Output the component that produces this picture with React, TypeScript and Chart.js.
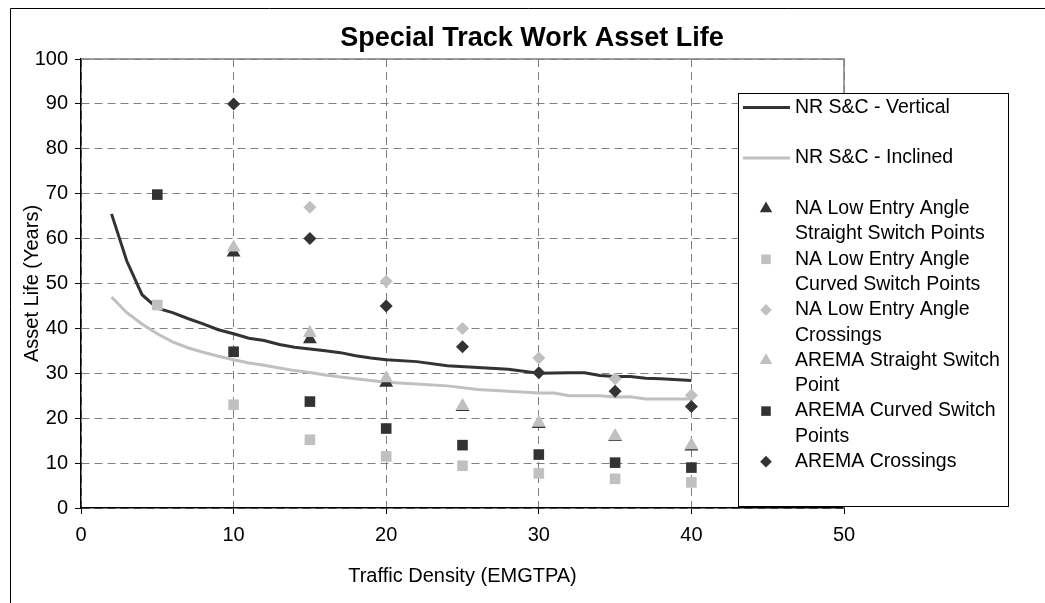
import React, { useEffect, useRef } from "react";
import { Chart, registerables } from "chart.js";
import { drawPoint } from "chart.js/helpers";

Chart.register(...registerables);

// ---------- text ----------
const CHART_TITLE = "Special Track Work Asset Life";
const X_TITLE = "Traffic Density (EMGTPA)";
const Y_TITLE = "Asset Life (Years)";

// legend text (as wrapped in the reference legend)
const legendLines: string[][] = [
  ["NR S&C - Vertical"],
  ["NR S&C - Inclined"],
  ["NA Low Entry Angle", "Straight Switch Points"],
  ["NA Low Entry Angle", "Curved Switch Points"],
  ["NA Low Entry Angle", "Crossings"],
  ["AREMA Straight Switch", "Point"],
  ["AREMA Curved Switch", "Points"],
  ["AREMA Crossings"],
];

// ---------- axis ----------
const X_MIN = 0;
const X_MAX = 50;
const X_STEP = 10;
const Y_MIN = 0;
const Y_MAX = 100;
const Y_STEP = 10;

// ---------- data ----------
// NR S&C - Vertical (curve)
const verticalX = [2, 3, 4, 5, 6, 7, 8, 9, 10, 11, 12, 13, 14, 15, 16, 17, 18, 19, 20, 22, 24, 26, 28, 30, 32, 33, 34, 35, 36, 37, 38, 40];
const verticalY = [65.5, 55, 47.5, 44.5, 43.5, 42.2, 41, 39.7, 38.8, 37.8, 37.3, 36.4, 35.8, 35.4, 35.0, 34.6, 33.9, 33.4, 33.0, 32.6, 31.7, 31.3, 30.9, 30.0, 30.1, 30.1, 29.5, 29.3, 29.3, 28.9, 28.8, 28.4];

// NR S&C - Inclined (curve)
const inclinedX = [2, 3, 4, 5, 6, 7, 8, 9, 10, 11, 12, 13, 14, 15, 16, 17, 18, 19, 20, 22, 24, 26, 28, 30, 31, 32, 34, 35, 36, 37, 38, 40];
const inclinedY = [47, 43.5, 41, 38.8, 37, 35.7, 34.7, 33.8, 33.0, 32.3, 31.8, 31.2, 30.6, 30.2, 29.6, 29.2, 28.8, 28.4, 28.0, 27.6, 27.2, 26.4, 26.0, 25.6, 25.6, 25.0, 25.0, 24.7, 24.8, 24.3, 24.3, 24.3];

// NA Low Entry Angle Straight Switch Points
const naStraightX = [10, 15, 20, 25, 30, 35, 40];
const naStraightY = [56.9, 37.6, 27.9, 22.5, 18.7, 15.8, 13.7];

// NA Low Entry Angle Curved Switch Points
const naCurvedX = [5, 10, 15, 20, 25, 30, 35, 40];
const naCurvedY = [45.2, 23.0, 15.2, 11.5, 9.4, 7.7, 6.5, 5.7];

// NA Low Entry Angle Crossings
const naCrossX = [15, 20, 25, 30, 35, 40];
const naCrossY = [67.0, 50.5, 40.0, 33.4, 28.8, 25.1];

// AREMA Straight Switch Point
const aremaStraightX = [10, 15, 20, 25, 30, 35, 40];
const aremaStraightY = [58.0, 39.0, 28.9, 22.7, 19.0, 16.0, 14.0];

// AREMA Curved Switch Points
const aremaCurvedX = [5, 10, 15, 20, 25, 30, 35, 40];
const aremaCurvedY = [69.8, 34.8, 23.7, 17.7, 14.0, 11.9, 10.1, 9.0];

// AREMA Crossings
const aremaCrossX = [10, 15, 20, 25, 30, 35, 40];
const aremaCrossY = [90, 60, 45, 35.9, 30.1, 26.0, 22.6];

// ---------- style ----------
const DARK = "#333333";
const LIGHT = "#c0c0c0";
const GRID = "#808080";
const FONT = "'Liberation Sans', Arial, Helvetica, sans-serif";

const pts = (xs: number[], ys: number[]) => xs.map((x, i) => ({ x, y: ys[i] }));

const lineSet = (i: number, xs: number[], ys: number[], color: string) => ({
  label: legendLines[i].join(" "),
  data: pts(xs, ys),
  showLine: true,
  borderColor: color,
  backgroundColor: color,
  borderWidth: 3,
  pointRadius: 0,
  pointHoverRadius: 0,
  tension: 0,
  order: 20,
});

const markerSet = (i: number, xs: number[], ys: number[], color: string, style: string, radius: number, order: number) => ({
  label: legendLines[i].join(" "),
  data: pts(xs, ys),
  showLine: false,
  borderColor: color,
  backgroundColor: color,
  borderWidth: 0,
  pointStyle: style,
  pointRadius: radius,
  pointHoverRadius: radius,
  order,
});

const overlayPlugin = {
  id: "overlay",
  beforeDraw(chart: any) {
    const ctx = chart.ctx;
    ctx.save();
    ctx.fillStyle = "#ffffff";
    ctx.fillRect(0, 0, chart.width, chart.height);
    ctx.restore();
  },
  afterDraw(chart: any) {
    const { ctx, chartArea } = chart;
    const { left, right, top, bottom } = chartArea;
    ctx.save();

    // plot area border (top and right), grey
    ctx.strokeStyle = GRID;
    ctx.lineWidth = 1.5;
    ctx.setLineDash([]);
    ctx.beginPath();
    ctx.moveTo(left, top);
    ctx.lineTo(right, top);
    ctx.lineTo(right, bottom);
    ctx.stroke();

    // outer chart border (top and left)
    ctx.strokeStyle = "#000";
    ctx.lineWidth = 1;
    ctx.beginPath();
    ctx.moveTo(10.5, chart.height + 2);
    ctx.lineTo(10.5, 8.5);
    ctx.lineTo(chart.width + 2, 8.5);
    ctx.stroke();

    // titles
    ctx.fillStyle = "#000";
    ctx.textAlign = "center";
    ctx.textBaseline = "middle";
    ctx.font = `bold 27px ${FONT}`;
    ctx.fillText(CHART_TITLE, 532, 39);

    ctx.font = `20px ${FONT}`;
    ctx.fillText(X_TITLE, (left + right) / 2, 576);

    ctx.save();
    ctx.translate(32, (top + bottom) / 2);
    ctx.rotate(-Math.PI / 2);
    ctx.fillText(Y_TITLE, 0, 0);
    ctx.restore();

    // legend box
    const LX = 738.5, LY = 93.5, LW = 270, LH = 413;
    ctx.fillStyle = "#fff";
    ctx.fillRect(LX, LY, LW, LH);
    ctx.strokeStyle = "#000";
    ctx.lineWidth = 1;
    ctx.strokeRect(LX, LY, LW, LH);

    const ROW = 25.3;
    const firstRow = LY + 14;
    ctx.font = `19.5px ${FONT}`;
    ctx.textAlign = "left";
    ctx.textBaseline = "middle";
    chart.data.datasets.forEach((ds: any, i: number) => {
      const y0 = firstRow + ROW * 2 * i;
      if (ds.showLine) {
        ctx.strokeStyle = ds.borderColor;
        ctx.lineWidth = 3;
        ctx.beginPath();
        ctx.moveTo(743, y0);
        ctx.lineTo(790, y0);
        ctx.stroke();
      } else {
        ctx.fillStyle = ds.backgroundColor;
        ctx.strokeStyle = ds.backgroundColor;
        drawPoint(ctx, { pointStyle: ds.pointStyle, radius: ds.pointRadius * 0.9, rotation: 0, borderWidth: 0 } as any, 766, y0);
      }
      ctx.fillStyle = "#000";
      legendLines[i].forEach((t, j) => ctx.fillText(t, 795, y0 + j * ROW));
    });

    ctx.restore();
  },
};

export default function App() {
  const ref = useRef<HTMLCanvasElement>(null);
  useEffect(() => {
    const canvas = ref.current;
    if (!canvas) return;
    const chart = new Chart(canvas, {
      type: "scatter",
      data: {
        datasets: [
          lineSet(0, verticalX, verticalY, DARK),
          lineSet(1, inclinedX, inclinedY, LIGHT),
          markerSet(2, naStraightX, naStraightY, DARK, "triangle", 8, 6),
          markerSet(3, naCurvedX, naCurvedY, LIGHT, "rect", 7.5, 5),
          markerSet(4, naCrossX, naCrossY, LIGHT, "rectRot", 6.5, 4),
          markerSet(5, aremaStraightX, aremaStraightY, LIGHT, "triangle", 8, 3),
          markerSet(6, aremaCurvedX, aremaCurvedY, DARK, "rect", 7.5, 2),
          markerSet(7, aremaCrossX, aremaCrossY, DARK, "rectRot", 6.5, 1),
        ] as any,
      },
      options: {
        responsive: false,
        animation: false,
        events: [],
        devicePixelRatio: 1,
        layout: { padding: { left: 0, top: 59, right: 201, bottom: 55 } },
        plugins: {
          legend: { display: false },
          title: { display: false },
          tooltip: { enabled: false },
        },
        scales: {
          x: {
            type: "linear",
            position: "bottom",
            min: X_MIN,
            max: X_MAX,
            ticks: { stepSize: X_STEP, color: "#000", font: { family: FONT, size: 20 }, padding: 9, maxRotation: 0 },
            grid: { color: GRID, lineWidth: 1, tickColor: "#000", tickLength: 6, tickBorderDash: [] },
            border: { display: true, color: "#000", width: 1.5, dash: [8, 5] },
            afterFit: (s: any) => { s.height = 40; },
          },
          y: {
            type: "linear",
            position: "left",
            min: Y_MIN,
            max: Y_MAX,
            ticks: { stepSize: Y_STEP, color: "#000", font: { family: FONT, size: 20 }, padding: 7 },
            grid: { color: GRID, lineWidth: 1, tickColor: "#000", tickLength: 6, tickBorderDash: [] },
            border: { display: true, color: "#000", width: 1.5, dash: [8, 5] },
            afterFit: (s: any) => { s.width = 81; },
          },
        },
      } as any,
      plugins: [overlayPlugin],
    });
    return () => chart.destroy();
  }, []);

  return (
    <div style={{ position: "absolute", left: 0, top: 0, width: 1045, height: 603, background: "#fff" }}>
      <canvas ref={ref} width={1045} height={603} style={{ display: "block", width: 1045, height: 603 }} />
    </div>
  );
}
